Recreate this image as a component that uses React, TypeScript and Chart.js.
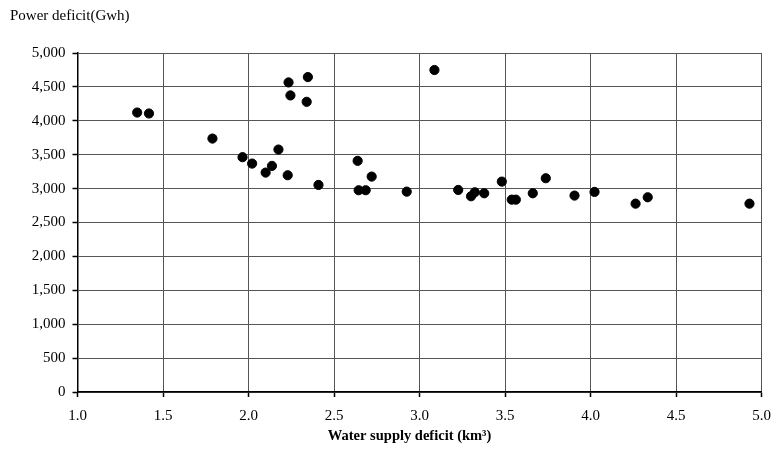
import React, { useEffect, useRef } from "react";
import { Chart, registerables } from "chart.js";

Chart.register(...registerables);

const waterDeficit = [
  1.349, 1.418, 1.789, 1.965, 2.021, 2.1, 2.137, 2.175, 2.229, 2.234, 2.245, 2.34, 2.347, 2.409,
  2.638, 2.644, 2.685, 2.72, 2.925, 3.087, 3.226, 3.301, 3.323, 3.378, 3.481, 3.539, 3.563, 3.662,
  3.738, 3.906, 4.023, 4.263, 4.334, 4.929,
];
const powerDeficit = [
  4122, 4108, 3738, 3463, 3369, 3236, 3335, 3576, 3197, 4566, 4374, 4280, 4645, 3054,
  3409, 2976, 2976, 3177, 2955, 4749, 2980, 2887, 2946, 2931, 3103, 2837, 2837, 2931,
  3153, 2897, 2951, 2778, 2872, 2778,
];

const yAxisTitle = "Power deficit(Gwh)";
const xAxisTitle = "Water supply deficit (km³)";

const FONT = "'Liberation Serif', 'DejaVu Serif', serif";

const textPlugin = {
  id: "textPlugin",
  afterDraw(chart: any) {
    const { ctx, chartArea } = chart;
    ctx.save();
    ctx.fillStyle = "#000";
    ctx.font = `15px ${FONT}`;
    ctx.textAlign = "left";
    ctx.textBaseline = "middle";
    ctx.fillText(yAxisTitle, 10, 16);
    ctx.font = `bold 14.5px ${FONT}`;
    ctx.textAlign = "center";
    ctx.fillText(xAxisTitle, (chartArea.left + chartArea.right) / 2 - 10, 436);
    ctx.restore();
  },
};

export default function App() {
  const ref = useRef<HTMLCanvasElement>(null);
  useEffect(() => {
    document.body.style.margin = "0";
    const points = waterDeficit.map((x, i) => ({ x, y: powerDeficit[i] }));
    const gridCommon = {
      color: "#555",
      lineWidth: 1,
      borderDash: [3, 2],
      tickColor: "#000",
      tickLength: 5,
      tickBorderDash: [],
      tickWidth: 1.5,
    };
    const chart = new Chart(ref.current!, {
      type: "scatter",
      data: {
        datasets: [
          {
            data: points,
            backgroundColor: "#000",
            borderColor: "#000",
            pointRadius: 4.6,
            pointHoverRadius: 4.6,
          },
        ],
      },
      options: {
        animation: false,
        responsive: false,
        devicePixelRatio: 1,
        layout: { padding: { top: 53, right: 14, left: 0, bottom: 0 } },
        plugins: { legend: { display: false }, tooltip: { enabled: false }, title: { display: false } },
        scales: {
          x: {
            type: "linear",
            min: 1,
            max: 5,
            afterFit(scale: any) {
              scale.height = 64;
            },
            ticks: {
              stepSize: 0.5,
              color: "#000",
              font: { family: FONT, size: 15 },
              padding: 10,
              maxRotation: 0,
              callback: (v: any) => Number(v).toFixed(1),
            },
            grid: gridCommon,
            border: { display: true, color: "#000", width: 1.5 },
          },
          y: {
            type: "linear",
            min: 0,
            max: 5000,
            afterFit(scale: any) {
              scale.width = 77.5;
            },
            ticks: {
              stepSize: 500,
              color: "#000",
              font: { family: FONT, size: 15 },
              padding: 7,
              callback: (v: any) => Number(v).toLocaleString("en-US"),
            },
            grid: gridCommon,
            border: { display: true, color: "#000", width: 1.5 },
          },
        },
      },
      plugins: [textPlugin],
    });
    return () => chart.destroy();
  }, []);
  return (
    <div style={{ position: "fixed", left: 0, top: 0, width: 781, height: 456, background: "#fff" }}>
      <canvas ref={ref} width={781} height={456} style={{ width: 781, height: 456 }} />
    </div>
  );
}
